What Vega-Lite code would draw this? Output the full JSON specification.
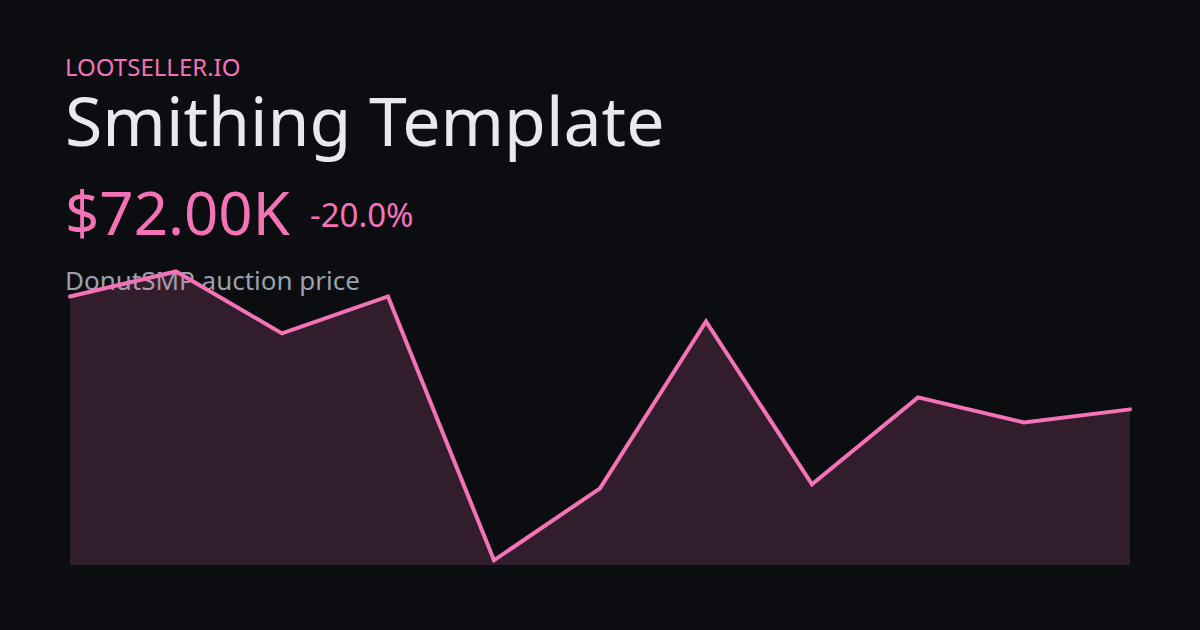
{
  "$schema": "https://vega.github.io/schema/vega-lite/v6.json",
  "width": 1060,
  "height": 315,
  "autosize": {"type": "none"},
  "padding": {"left": 70, "top": 250, "right": 70, "bottom": 65},
  "background": "#0c0d10",
  "config": {"view": {"stroke": null}, "font": "Noto Sans"},
  "title": {
    "text": "LOOTSELLER.IO",
    "subtitle": "Smithing Template",
    "anchor": "start",
    "frame": "group",
    "orient": "top",
    "dx": -5,
    "offset": 27,
    "font": "Noto Sans",
    "fontSize": 24,
    "fontWeight": "normal",
    "color": "#f472b6",
    "subtitleFont": "Noto Sans",
    "subtitleFontSize": 68,
    "subtitleColor": "#e8e9ee",
    "subtitlePadding": 11
  },
  "data": {
    "values": [
      {"i": 0, "price": 90.0},
      {"i": 1, "price": 93.98},
      {"i": 2, "price": 84.11},
      {"i": 3, "price": 90.0},
      {"i": 4, "price": 47.95},
      {"i": 5, "price": 59.42},
      {"i": 6, "price": 86.02},
      {"i": 7, "price": 60.05},
      {"i": 8, "price": 73.91},
      {"i": 9, "price": 69.93},
      {"i": 10, "price": 72.0}
    ]
  },
  "layer": [
    {
      "data": {"values": [{"label": "DonutSMP auction price"}]},
      "mark": {"type": "text", "x": -5, "y": 40, "align": "left", "baseline": "alphabetic", "fontSize": 26, "color": "#9aa0ad", "font": "Noto Sans"},
      "encoding": {"text": {"field": "label"}}
    },
    {
      "data": {"values": [{"label": "$72.00K"}]},
      "mark": {"type": "text", "x": -5, "y": -15, "align": "left", "baseline": "alphabetic", "fontSize": 60, "color": "#f472b6", "font": "Noto Sans"},
      "encoding": {"text": {"field": "label"}}
    },
    {
      "data": {"values": [{"label": "-20.0%"}]},
      "mark": {"type": "text", "x": 240, "y": -23, "align": "left", "baseline": "alphabetic", "fontSize": 33, "color": "#f472b6", "font": "Noto Sans"},
      "encoding": {"text": {"field": "label"}}
    },
    {
      "mark": {"type": "area", "color": "#f472b6", "opacity": 0.17},
      "encoding": {
        "x": {"field": "i", "type": "quantitative", "axis": null, "scale": {"domain": [0, 10], "nice": false}},
        "y": {"field": "price", "type": "quantitative", "axis": null, "scale": {"domain": [47.2, 97.4], "nice": false, "zero": false}},
        "y2": {"datum": 47.2}
      }
    },
    {
      "mark": {"type": "line", "color": "#f472b6", "strokeWidth": 4, "strokeJoin": "miter", "strokeCap": "round"},
      "encoding": {
        "x": {"field": "i", "type": "quantitative"},
        "y": {"field": "price", "type": "quantitative"}
      }
    }
  ]
}
